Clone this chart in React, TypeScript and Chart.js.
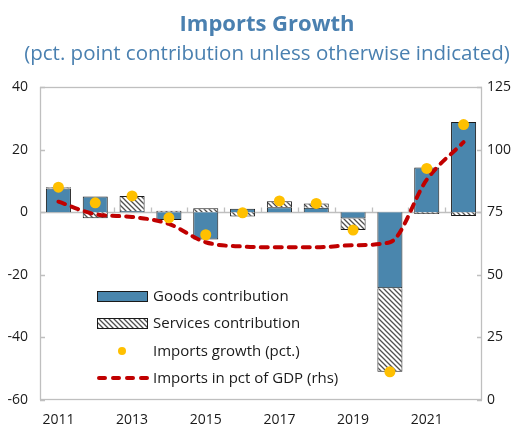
import React, { useEffect, useRef } from 'react';
import { Chart, registerables } from 'chart.js';

Chart.register(...registerables);

const years = ['2011', '2012', '2013', '2014', '2015', '2016', '2017', '2018', '2019', '2020', '2021', '2022'];
const goodsContribution = [7.6, 5.0, 0.4, -2.5, -8.7, 1.1, 1.6, 1.4, -2.0, -24.3, 14.3, 28.8];
const servicesContribution = [0.4, -1.9, 4.8, 0.5, 1.3, -1.4, 1.9, 1.4, -3.7, -26.7, -0.6, -1.2];
const importsGrowth = [8.0, 3.0, 5.2, -1.8, -7.2, -0.2, 3.6, 2.8, -5.7, -51.0, 14.0, 28.0];
const importsPctGdp = [79.2, 74.2, 73.1, 70.3, 63.0, 61.3, 61.0, 61.0, 61.8, 63.0, 88.0, 103.0];
const leftAxis = { min: -60, max: 40, step: 20 };
const rightAxis = { min: 0, max: 125, step: 25 };
const legendLabels = ['Goods contribution', 'Services contribution', 'Imports growth (pct.)', 'Imports in pct of GDP (rhs)'];
const titleText = 'Imports Growth';
const subtitleText = '(pct. point contribution unless otherwise indicated)';

const FONT = "'Open Sans', 'Noto Sans', sans-serif";
const TITLE_COLOR = '#4a80b0';
const GOODS_COLOR = '#4a86ad';
const DOT_COLOR = '#ffc000';
const LINE_COLOR = '#c00000';
const FRAME_COLOR = '#bfbfbf';
const TEXT_COLOR = '#1a1a1a';

function makeHatch(): CanvasPattern | string {
  const c = document.createElement('canvas');
  const s = 5;
  c.width = s;
  c.height = s;
  const g = c.getContext('2d');
  if (!g) return '#ffffff';
  g.fillStyle = '#ffffff';
  g.fillRect(0, 0, s, s);
  g.strokeStyle = '#505050';
  g.lineWidth = 1.3;
  g.beginPath();
  g.moveTo(-1, -1);
  g.lineTo(s + 1, s + 1);
  g.moveTo(-1, s - 1);
  g.lineTo(1, s + 1);
  g.moveTo(s - 1, -1);
  g.lineTo(s + 1, 1);
  g.stroke();
  const p = g.createPattern(c, 'repeat');
  return p || '#ffffff';
}

export default function App() {
  const ref = useRef<HTMLCanvasElement | null>(null);

  useEffect(() => {
    document.body.style.margin = '0';
    const canvas = ref.current;
    if (!canvas) return;
    const hatch = makeHatch();

    const decor = {
      id: 'decor',
      beforeDatasetsDraw(chart: any) {
        const { ctx, chartArea } = chart;
        const y = chart.scales.y;
        const y1 = chart.scales.y1;
        ctx.save();
        ctx.strokeStyle = FRAME_COLOR;
        ctx.lineWidth = 1.3;
        ctx.strokeRect(Math.round(chartArea.left) + 0.5, Math.round(chartArea.top) + 0.5,
          Math.round(chartArea.right - chartArea.left) - 1, Math.round(chartArea.bottom - chartArea.top) - 1);
        const y0 = Math.round(y.getPixelForValue(0)) + 0.5;
        ctx.beginPath();
        ctx.moveTo(chartArea.left, y0);
        ctx.lineTo(chartArea.right, y0);
        ctx.stroke();
        const n = years.length;
        const w = (chartArea.right - chartArea.left) / n;
        ctx.beginPath();
        for (let i = 1; i < n; i++) {
          const px = Math.round(chartArea.left + i * w) + 0.5;
          ctx.moveTo(px, y0);
          ctx.lineTo(px, y0 - 5);
        }
        for (let v = leftAxis.min; v <= leftAxis.max; v += leftAxis.step) {
          const py = Math.round(y.getPixelForValue(v)) + 0.5;
          ctx.moveTo(chartArea.left, py);
          ctx.lineTo(chartArea.left + 5, py);
        }
        for (let v = rightAxis.min; v <= rightAxis.max; v += rightAxis.step) {
          const py = Math.round(y1.getPixelForValue(v)) + 0.5;
          ctx.moveTo(chartArea.right, py);
          ctx.lineTo(chartArea.right - 5, py);
        }
        ctx.stroke();
        ctx.restore();
      },
      afterDraw(chart: any) {
        const { ctx } = chart;
        ctx.save();
        // titles
        ctx.fillStyle = TITLE_COLOR;
        ctx.textAlign = 'center';
        ctx.textBaseline = 'alphabetic';
        ctx.font = `bold 22px ${FONT}`;
        ctx.fillText(titleText, 267, 31);
        ctx.font = `20.5px ${FONT}`;
        ctx.fillText(subtitleText, 267, 60);
        // legend
        ctx.textAlign = 'left';
        const bx = 97;
        const bw = 50;
        const tx = 153;
        const rows = [296, 323, 351, 378];
        ctx.fillStyle = GOODS_COLOR;
        ctx.fillRect(bx, rows[0] - 5, bw, 10);
        ctx.strokeStyle = '#1a1a1a';
        ctx.lineWidth = 1;
        ctx.strokeRect(bx + 0.5, rows[0] - 5 + 0.5, bw, 10);
        ctx.fillStyle = hatch as any;
        ctx.fillRect(bx, rows[1] - 5, bw, 10);
        ctx.strokeRect(bx + 0.5, rows[1] - 5 + 0.5, bw, 10);
        ctx.fillStyle = DOT_COLOR;
        ctx.beginPath();
        ctx.arc(bx + bw / 2, rows[2], 4, 0, Math.PI * 2);
        ctx.fill();
        ctx.strokeStyle = LINE_COLOR;
        ctx.lineWidth = 4;
        ctx.lineCap = 'round';
        ctx.setLineDash([6, 8]);
        ctx.beginPath();
        ctx.moveTo(bx + 2, rows[3]);
        ctx.lineTo(bx + bw + 3, rows[3]);
        ctx.stroke();
        ctx.setLineDash([]);
        ctx.fillStyle = TEXT_COLOR;
        ctx.textBaseline = 'middle';
        ctx.font = `15px ${FONT}`;
        legendLabels.forEach((t, i) => ctx.fillText(t, tx, rows[i] + 1));
        ctx.restore();
      },
    };

    const chart = new Chart(canvas, {
      type: 'bar',
      data: {
        labels: years,
        datasets: [
          {
            type: 'line',
            label: legendLabels[2],
            data: importsGrowth,
            yAxisID: 'y',
            stack: 'growth',
            showLine: false,
            pointRadius: 5.5,
            pointBackgroundColor: DOT_COLOR,
            pointBorderWidth: 0,
            borderColor: DOT_COLOR,
            order: 0,
          },
          {
            type: 'line',
            label: legendLabels[3],
            data: importsPctGdp,
            yAxisID: 'y1',
            stack: 'gdp',
            borderColor: LINE_COLOR,
            borderWidth: 4,
            borderDash: [7, 7],
            borderCapStyle: 'round',
            cubicInterpolationMode: 'monotone',
            pointRadius: 0,
            fill: false,
            order: 1,
          },
          {
            type: 'bar',
            label: legendLabels[0],
            data: goodsContribution,
            yAxisID: 'y',
            stack: 'bars',
            backgroundColor: GOODS_COLOR,
            borderColor: '#1a1a1a',
            borderWidth: 1,
            barPercentage: 0.68,
            categoryPercentage: 1,
            order: 2,
          },
          {
            type: 'bar',
            label: legendLabels[1],
            data: servicesContribution,
            yAxisID: 'y',
            stack: 'bars',
            backgroundColor: hatch as any,
            borderColor: '#1a1a1a',
            borderWidth: 1,
            barPercentage: 0.68,
            categoryPercentage: 1,
            order: 2,
          },
        ] as any,
      },
      options: {
        responsive: false,
        animation: false,
        devicePixelRatio: 1,
        layout: { padding: { top: 87, left: 0, right: 0, bottom: 0 } },
        font: { family: FONT },
        plugins: {
          legend: { display: false },
          tooltip: { enabled: false },
          title: { display: false },
        },
        scales: {
          x: {
            stacked: true,
            offset: true,
            grid: { display: false, drawTicks: false },
            border: { display: false },
            ticks: {
              autoSkip: false,
              maxRotation: 0,
              padding: 12,
              color: TEXT_COLOR,
              font: { family: FONT, size: 14 },
              callback: (_v: any, i: number) => (i % 2 === 0 ? years[i] : ''),
            },
            afterFit: (s: any) => { s.height = 30; },
          },
          y: {
            position: 'left',
            stacked: true,
            min: leftAxis.min,
            max: leftAxis.max,
            grid: { display: false, drawTicks: false },
            border: { display: false },
            ticks: { stepSize: leftAxis.step, padding: 12, color: TEXT_COLOR, font: { family: FONT, size: 14 } },
            afterFit: (s: any) => { s.width = 40; },
          },
          y1: {
            position: 'right',
            min: rightAxis.min,
            max: rightAxis.max,
            grid: { display: false, drawTicks: false },
            border: { display: false },
            ticks: { stepSize: rightAxis.step, padding: 5, color: TEXT_COLOR, font: { family: FONT, size: 14 } },
            afterFit: (s: any) => { s.width = 41; },
          },
        },
      } as any,
      plugins: [decor],
    });
    return () => chart.destroy();
  }, []);

  return (
    <div style={{ width: 523, height: 430 }}>
      <canvas ref={ref} width={523} height={430} style={{ display: 'block' }} />
    </div>
  );
}
